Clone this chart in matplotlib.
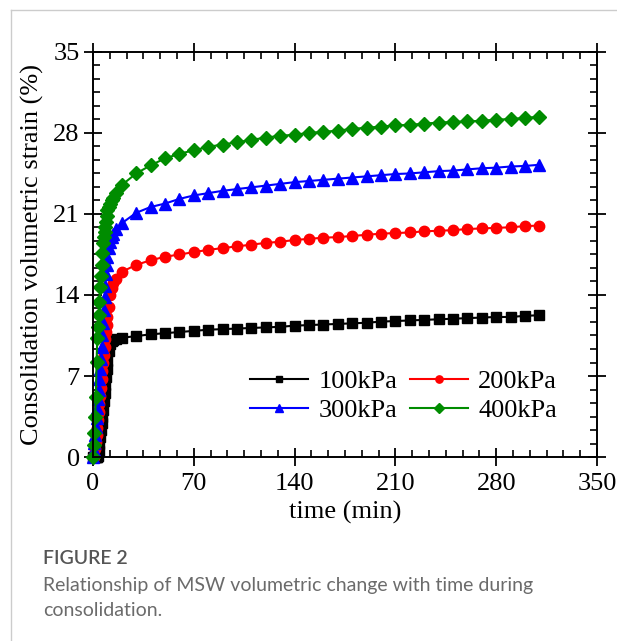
import matplotlib.pyplot as plt
from matplotlib.lines import Line2D
from matplotlib.ticker import MultipleLocator

# elapsed time (min)
time = [0, 0.5, 1, 1.5, 2, 2.5, 3, 3.5, 4, 4.5, 5, 5.5, 6, 6.5, 7, 7.5, 8, 8.5,
        9, 9.5, 10, 11, 12, 13, 14, 16,
        20, 30, 40, 50, 60, 70, 80, 90, 100, 110, 120, 130, 140, 150, 160,
        170, 180, 190, 200, 210, 220, 230, 240, 250, 260, 270, 280, 290, 300, 310]

# consolidation volumetric strain (%)
strain_100 = [0, 0, 0, 0, 0, 0, 0, 0.1, 0.5, 1.1, 1.7, 2.3, 2.9, 3.5, 4.1, 4.8,
              5.5, 6.2, 6.9, 7.6, 8.3, 9.2, 9.8, 10.0, 10.1, 10.2,
              10.3, 10.45, 10.6, 10.7, 10.8, 10.9, 11.0, 11.05, 11.1, 11.15,
              11.2, 11.25, 11.35, 11.4, 11.45, 11.5, 11.55, 11.6, 11.7, 11.75,
              11.8, 11.85, 11.9, 11.95, 12.0, 12.05, 12.1, 12.1, 12.2, 12.25]
strain_200 = [0, 0, 0.1, 0.7, 1.3, 1.9, 2.5, 3.2, 3.9, 4.6, 5.3, 6.0, 6.7, 7.4,
              8.1, 8.8, 9.5, 10.2, 10.8, 11.4, 12.1, 13.0, 14.0, 14.6, 15.0, 15.4,
              16.0, 16.6, 17.0, 17.3, 17.5, 17.7, 17.9, 18.05, 18.2, 18.35,
              18.5, 18.6, 18.75, 18.85, 18.95, 19.0, 19.1, 19.2, 19.3, 19.35,
              19.4, 19.5, 19.55, 19.6, 19.7, 19.75, 19.8, 19.85, 19.95, 20.0]
strain_300 = [0, 0.6, 1.2, 1.9, 2.6, 3.4, 4.2, 5.0, 5.8, 6.7, 7.6, 8.5, 9.5,
              10.5, 11.6, 12.7, 13.8, 14.8, 15.8, 16.6, 17.3, 18.1, 18.6, 19.0,
              19.3, 19.7,
              20.2, 21.1, 21.6, 21.9, 22.3, 22.6, 22.8, 23.0, 23.15, 23.3,
              23.45, 23.6, 23.75, 23.85, 23.95, 24.05, 24.15, 24.25, 24.35,
              24.45, 24.5, 24.6, 24.7, 24.75, 24.85, 24.95, 25.0, 25.1, 25.15, 25.25]
strain_400 = [0, 1.0, 2.1, 3.5, 5.2, 8.2, 10.3, 11.2, 12.3, 13.4, 14.7, 15.6,
              16.6, 17.6, 18.5, 19.0, 19.4, 19.9, 20.3, 20.8, 21.3, 21.6, 21.9,
              22.2, 22.4, 22.8,
              23.5, 24.5, 25.2, 25.8, 26.2, 26.5, 26.8, 27.0, 27.2, 27.4,
              27.6, 27.75, 27.85, 28.0, 28.1, 28.2, 28.35, 28.45, 28.55,
              28.65, 28.7, 28.8, 28.9, 28.95, 29.0, 29.05, 29.15, 29.2, 29.3, 29.4]

labels = ["100kPa", "200kPa", "300kPa", "400kPa"]
colors = ["black", "#ff0000", "#0000ff", "#008c00"]
markers = ["s", "o", "^", "D"]
sizes = [7, 7.5, 8, 7]

plt.rcParams['font.family'] = ['Liberation Serif', 'DejaVu Serif']

fig = plt.figure(figsize=(6.17, 6.41), dpi=100)
ax = fig.add_axes([0.1507, 0.287, 0.8169, 0.632])

series = [strain_100, strain_200, strain_300, strain_400]
handles = []
for y, lab, c, m, s in zip(series, labels, colors, markers, sizes):
    h, = ax.plot(time, y, color=c, marker=m, markersize=s, linewidth=1.5,
                 label=lab, clip_on=False)
    handles.append(h)

ax.set_xlim(0, 350)
ax.set_ylim(0, 35)
ax.xaxis.set_major_locator(MultipleLocator(70))
ax.xaxis.set_minor_locator(MultipleLocator(70 / 6))
ax.yaxis.set_major_locator(MultipleLocator(7))
ax.yaxis.set_minor_locator(MultipleLocator(7 / 6))
ax.tick_params(which='major', direction='inout', length=13, width=1.3,
               top=True, right=True, labelsize=19)
ax.tick_params(axis='x', which='major', pad=5)
ax.tick_params(axis='y', which='major', pad=3)
ax.tick_params(which='minor', direction='in', length=5, width=1.2,
               top=True, right=True)
for sp in ax.spines.values():
    sp.set_linewidth(1.4)

ax.set_xlabel("time (min)", fontsize=19, labelpad=4)
ax.set_ylabel("Consolidation volumetric strain (%)", fontsize=19, labelpad=7)

# two rows: 100/200 on top, 300/400 below
order = [0, 2, 1, 3]
ax.legend([handles[i] for i in order], [labels[i] for i in order],
          ncol=2, frameon=False, fontsize=19, loc='lower right',
          bbox_to_anchor=(0.942, 0.06), handlelength=2.2,
          handletextpad=0.38, columnspacing=0.5, labelspacing=0.2,
          markerscale=0.7, borderaxespad=0)

# card border and caption
fig.add_artist(Line2D([11 / 617, 11 / 617], [0, 1 - 10 / 641],
                      color='#cccccc', linewidth=1))
fig.add_artist(Line2D([11 / 617, 1], [1 - 10 / 641, 1 - 10 / 641],
                      color='#cccccc', linewidth=1))
fig.text(43 / 617, 1 - 558 / 641, "FIGURE 2", family='Lato', fontsize=14,
         fontweight='semibold', color='#555555', va='center')
fig.text(43 / 617, 1 - 586 / 641,
         "Relationship of MSW volumetric change with time during",
         family='Lato', fontsize=14, color='#6b6b6b', va='center')
fig.text(43 / 617, 1 - 610 / 641, "consolidation.", family='Lato',
         fontsize=14, color='#6b6b6b', va='center')

fig.savefig("out.png", dpi=100)
